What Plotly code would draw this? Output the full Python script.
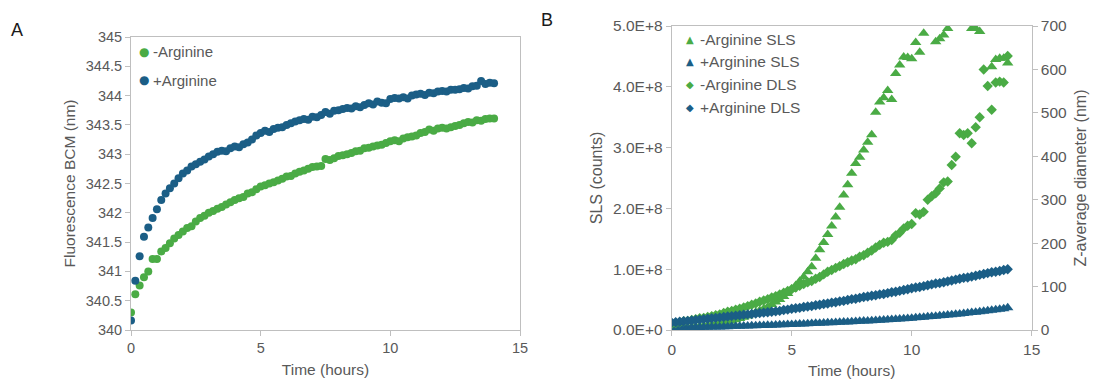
import plotly.graph_objects as go

# ---------------- Data ----------------
# Panel A: time points every 10 minutes (hours)
time_a = [i / 6 for i in range(85)]
bcm_minus_arg = [
    340.30, 340.61, 340.76, 340.90, 341.00, 341.21, 341.21, 341.34, 341.40, 341.48,
    341.56, 341.62, 341.68, 341.74, 341.77, 341.85, 341.91, 341.95, 342.00, 342.03,
    342.07, 342.10, 342.14, 342.18, 342.22, 342.25, 342.27, 342.33, 342.35, 342.40,
    342.45, 342.47, 342.50, 342.52, 342.55, 342.58, 342.62, 342.63, 342.67, 342.70,
    342.72, 342.75, 342.78, 342.79, 342.80, 342.92, 342.90, 342.93, 342.97, 342.98,
    343.00, 343.02, 343.05, 343.06, 343.10, 343.11, 343.13, 343.15, 343.16, 343.19,
    343.22, 343.24, 343.22, 343.27, 343.29, 343.30, 343.32, 343.36, 343.38, 343.42,
    343.40, 343.44, 343.45, 343.44, 343.46, 343.48, 343.50, 343.53, 343.55, 343.54,
    343.58, 343.57, 343.60, 343.61, 343.61,
]
bcm_plus_arg = [
    340.16, 340.84, 341.26, 341.59, 341.75, 341.91, 342.06, 342.22, 342.33, 342.42,
    342.50, 342.59, 342.67, 342.72, 342.79, 342.83, 342.87, 342.91, 342.96, 343.00,
    343.04, 343.06, 343.05, 343.10, 343.13, 343.12, 343.17, 343.20, 343.25, 343.32,
    343.36, 343.40, 343.38, 343.43, 343.45, 343.46, 343.50, 343.53, 343.56, 343.58,
    343.60, 343.59, 343.64, 343.63, 343.67, 343.72, 343.69, 343.74, 343.75, 343.77,
    343.79, 343.78, 343.82, 343.80, 343.84, 343.87, 343.85, 343.90, 343.88, 343.87,
    343.94, 343.96, 343.95, 343.97, 343.95, 344.00, 344.02, 344.03, 344.01, 344.05,
    344.04, 344.07, 344.08, 344.07, 344.10, 344.10, 344.11, 344.13, 344.12, 344.16,
    344.17, 344.25, 344.20, 344.22, 344.21,
]

# Panel B
time_b = [i / 6 for i in range(85)]
# SLS in units of 1e8 counts (values above 5 fall outside the axis)
sls_minus_arg_e8 = [
    0.03, 0.03, 0.03, 0.04, 0.04, 0.05, 0.05, 0.06, 0.07, 0.08,
    0.09, 0.10, 0.11, 0.12, 0.14, 0.15, 0.17, 0.19, 0.21, 0.23,
    0.26, 0.29, 0.32, 0.35, 0.38, 0.42, 0.46, 0.50, 0.55, 0.60,
    0.67, 0.73, 0.80, 0.87, 0.96, 1.04, 1.18, 1.32, 1.44, 1.57,
    1.71, 1.86, 2.02, 2.22, 2.39, 2.58, 2.74, 2.84, 2.96, 3.09,
    3.21, 3.58, 3.75, 3.82, 3.94, 3.79, 4.22, 4.36, 4.49, 4.48,
    4.46, 4.73, 4.57, 4.88, 5.20, 5.30, 4.74, 4.79, 4.85, 4.96,
    5.20, 5.30, 5.40, 5.30, 5.20, 4.96, 4.96, 4.91, 5.20, 5.10,
    4.33, 4.45, 4.47, 4.47, 4.39,
]
sls_plus_arg_e8 = [
    0.030, 0.030, 0.030, 0.035, 0.035, 0.040, 0.040, 0.040, 0.045, 0.045,
    0.050, 0.050, 0.050, 0.055, 0.055, 0.060, 0.060, 0.060, 0.065, 0.065,
    0.070, 0.070, 0.072, 0.075, 0.077, 0.080, 0.082, 0.085, 0.087, 0.090,
    0.092, 0.095, 0.098, 0.100, 0.103, 0.106, 0.110, 0.112, 0.115, 0.118,
    0.120, 0.123, 0.127, 0.130, 0.133, 0.137, 0.140, 0.143, 0.147, 0.150,
    0.154, 0.158, 0.162, 0.166, 0.170, 0.174, 0.178, 0.182, 0.186, 0.190,
    0.195, 0.200, 0.205, 0.210, 0.216, 0.222, 0.228, 0.234, 0.240, 0.246,
    0.252, 0.258, 0.265, 0.272, 0.279, 0.286, 0.293, 0.300, 0.308, 0.316,
    0.324, 0.332, 0.340, 0.350, 0.365,
]
dls_minus_arg = [
    14, 16, 18, 20, 21, 23, 25, 27, 28, 30,
    32, 34, 36, 39, 42, 44, 47, 49, 52, 55,
    58, 61, 65, 68, 71, 75, 78, 82, 86, 90,
    94, 98, 102, 106, 110, 113, 118, 122, 128, 134,
    138, 143, 147, 152, 156, 160, 163, 169, 172, 178,
    183, 190, 196, 201, 203, 207, 218, 224, 234, 240,
    244, 269, 266, 272, 300, 308, 315, 326, 340, 342,
    380, 399, 453, 449, 453, 430, 467, 490, 600, 562,
    507, 570, 572, 570, 631,
]
dls_plus_arg = [
    17, 18, 19, 20, 21, 22, 23, 24, 25, 26,
    27, 28, 29, 30, 31, 32, 33, 34, 35, 36,
    37, 38, 39, 40, 41, 42, 43, 44, 46, 47,
    49, 50, 51, 53, 54, 55, 57, 58, 60, 61,
    63, 64, 66, 67, 69, 71, 72, 74, 76, 77,
    79, 80, 82, 83, 85, 87, 88, 90, 92, 94,
    96, 98, 99, 101, 103, 105, 107, 108, 110, 112,
    114, 116, 118, 120, 121, 123, 125, 127, 129, 131,
    133, 134, 136, 138, 140,
]

sls_tick_vals_e8 = [0, 1, 2, 3, 4, 5]
sls_tick_text = ["0.0E+0", "1.0E+8", "2.0E+8", "3.0E+8", "4.0E+8", "5.0E+8"]

legend_a = ["-Arginine", "+Arginine"]
legend_b = ["-Arginine SLS", "+Arginine SLS", "-Arginine DLS", "+Arginine DLS"]

# ---------------- Style ----------------
# The page body has an 8 px margin, so the figure is 8 px smaller than the
# window on each axis and page coordinates are shifted by 8 px.
OFF = 8
W, H = 1099 - OFF, 381 - OFF
GREEN = "#4aab45"
BLUE = "#1b5e86"
AXIS = "#bfbfbf"
TXT = "#595959"
FONT = "Liberation Sans, Arial, sans-serif"

def px(x):
    return (x - OFF) / W

def py(y):
    return 1 - (y - OFF) / H

fig = go.Figure()

# Panel A
fig.add_trace(go.Scatter(x=time_a, y=bcm_minus_arg, mode="markers", name=legend_a[0],
                         marker=dict(color=GREEN, size=8), xaxis="x", yaxis="y", showlegend=False))
fig.add_trace(go.Scatter(x=time_a, y=bcm_plus_arg, mode="markers", name=legend_a[1],
                         marker=dict(color=BLUE, size=8), xaxis="x", yaxis="y", showlegend=False))

# Panel B
fig.add_trace(go.Scatter(x=time_b, y=[v * 1e8 for v in sls_minus_arg_e8], mode="markers", name=legend_b[0],
                         marker=dict(color=GREEN, size=10, symbol="triangle-up"), xaxis="x2", yaxis="y2",
                         showlegend=False))
fig.add_trace(go.Scatter(x=time_b, y=[v * 1e8 for v in sls_plus_arg_e8], mode="markers", name=legend_b[1],
                         marker=dict(color=BLUE, size=10, symbol="triangle-up"), xaxis="x2", yaxis="y2",
                         showlegend=False))
fig.add_trace(go.Scatter(x=time_b, y=dls_minus_arg, mode="markers", name=legend_b[2],
                         marker=dict(color=GREEN, size=8, symbol="diamond"), xaxis="x2", yaxis="y3",
                         showlegend=False))
fig.add_trace(go.Scatter(x=time_b, y=dls_plus_arg, mode="markers", name=legend_b[3],
                         marker=dict(color=BLUE, size=8, symbol="diamond"), xaxis="x2", yaxis="y3",
                         showlegend=False))

axis_common = dict(showgrid=False, zeroline=False, showline=True, linecolor=AXIS, linewidth=1,
                   ticks="outside", ticklen=5, tickcolor=AXIS, tickwidth=1, automargin=False)

fig.update_layout(
    template="none",
    width=W, height=H,
    margin=dict(l=0, r=0, t=0, b=0, autoexpand=False),
    paper_bgcolor="white", plot_bgcolor="white",
    font=dict(family=FONT, color=TXT, size=14),
    xaxis=dict(domain=[px(131), px(520)], range=[0, 15], dtick=5, mirror=True, anchor="y",
               tickfont=dict(size=14.5),
               title=dict(text="Time (hours)", font=dict(size=15.5), standoff=8), **axis_common),
    yaxis=dict(domain=[py(330), py(37)], range=[340, 345], dtick=0.5, mirror=True, anchor="x",
               tickfont=dict(size=14.5),
               title=dict(text="Fluorescence BCM (nm)", font=dict(size=15.5), standoff=6), **axis_common),
    xaxis2=dict(domain=[px(671.7), px(1031.7)], range=[0, 15], dtick=5, mirror=True, anchor="y2",
                tickfont=dict(size=15.5),
                title=dict(text="Time (hours)", font=dict(size=15.5), standoff=8), **axis_common),
    yaxis2=dict(domain=[py(330), py(26)], range=[0, 5e8], tickvals=[v * 1e8 for v in sls_tick_vals_e8],
                ticktext=sls_tick_text, anchor="x2", tickfont=dict(size=15.5),
                title=dict(text="SLS (counts)", font=dict(size=16), standoff=6), **axis_common),
    yaxis3=dict(domain=[py(330), py(26)], range=[0, 700], dtick=100, anchor="x2", overlaying="y2",
                side="right", tickfont=dict(size=15.5),
                title=dict(text="Z-average diameter (nm)", font=dict(size=16), standoff=8), **axis_common),
)

ann = []
# Panel letters
ann.append(dict(x=px(17), y=py(30), text="A", showarrow=False, xref="paper", yref="paper",
                xanchor="center", yanchor="middle", font=dict(size=18, color="#1a1a1a", family=FONT)))
ann.append(dict(x=px(547), y=py(20), text="B", showarrow=False, xref="paper", yref="paper",
                xanchor="center", yanchor="middle", font=dict(size=18, color="#1a1a1a", family=FONT)))

# Legend A
for i, (lab, col) in enumerate(zip(legend_a, [GREEN, BLUE])):
    yy = 52 + 28 * i
    ann.append(dict(x=px(144), y=py(yy), text="●", showarrow=False, xref="paper", yref="paper",
                    xanchor="center", yanchor="middle", font=dict(size=12, color=col, family="DejaVu Sans")))
    ann.append(dict(x=px(151), y=py(yy), text=lab, showarrow=False, xref="paper", yref="paper",
                    xanchor="left", yanchor="middle", font=dict(size=15, color=TXT, family=FONT)))

# Legend B
syms = ["▲", "▲", "◆", "◆"]
cols = [GREEN, BLUE, GREEN, BLUE]
for i, lab in enumerate(legend_b):
    yy = 39 + 22.7 * i
    ann.append(dict(x=px(690), y=py(yy), text=syms[i], showarrow=False, xref="paper", yref="paper",
                    xanchor="center", yanchor="middle", font=dict(size=10, color=cols[i], family="DejaVu Sans")))
    ann.append(dict(x=px(698), y=py(yy), text=lab, showarrow=False, xref="paper", yref="paper",
                    xanchor="left", yanchor="middle", font=dict(size=15.5, color=TXT, family=FONT)))

fig.update_layout(annotations=ann)

fig.write_html("out.html")
